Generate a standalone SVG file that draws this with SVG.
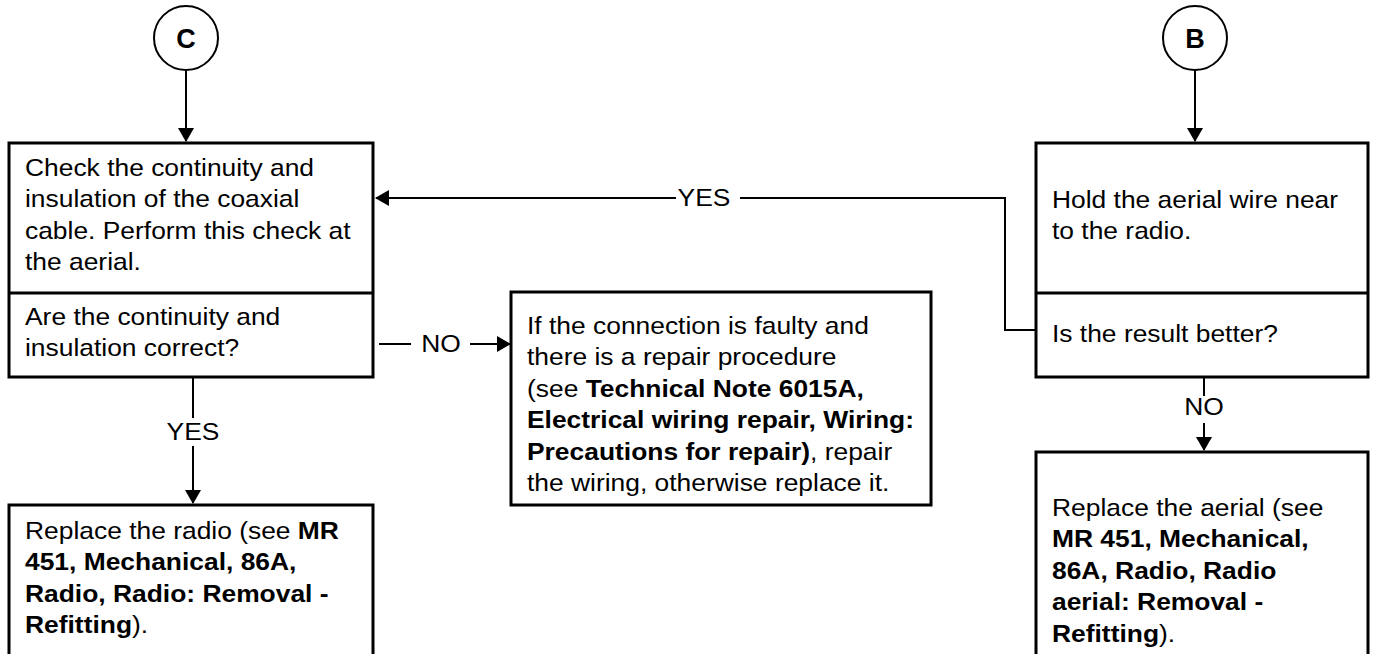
<svg xmlns="http://www.w3.org/2000/svg" width="1375" height="654" viewBox="0 0 1375 654">
<style>
.box{fill:#fff;stroke:#000;stroke-width:3}
.circ{fill:#fff;stroke:#000;stroke-width:2}
.t{font-family:"Liberation Sans",Arial,Helvetica,sans-serif;font-size:24px;fill:#000}
.b{font-weight:bold}
.lbl{text-anchor:middle}
.conn{stroke:#000;stroke-width:2;fill:none}
.div{stroke:#000;stroke-width:3}
</style>
<defs>
<marker id="ah" markerWidth="14" markerHeight="16" refX="13" refY="8" orient="auto" markerUnits="userSpaceOnUse">
<path d="M0,0 L14,8 L0,16 Z" fill="#000"/>
</marker>
</defs>
<rect width="1375" height="654" fill="#fff"/>

<g id="connectors">
<path class="conn" d="M186,71 V141" marker-end="url(#ah)"/>
<path class="conn" d="M1195,71 V141" marker-end="url(#ah)"/>
<path class="conn" d="M193,378 V418"/>
<path class="conn" d="M193,446 V503" marker-end="url(#ah)"/>
<path class="conn" d="M1204,378 V396"/>
<path class="conn" d="M1204,423 V450" marker-end="url(#ah)"/>
<path class="conn" d="M1036,330 H1005 V198 H740"/>
<path class="conn" d="M676,198 H376" marker-end="url(#ah)"/>
<path class="conn" d="M379,344 H411"/>
<path class="conn" d="M470,344 H510" marker-end="url(#ah)"/>
<text class="t lbl" transform="translate(193 0) scale(1.1 1)" x="0" y="440">YES</text>
<text class="t lbl" transform="translate(1204 0) scale(1.1 1)" x="0" y="415">NO</text>
<text class="t lbl" transform="translate(704 0) scale(1.1 1)" x="0" y="206">YES</text>
<text class="t lbl" transform="translate(441 0) scale(1.1 1)" x="0" y="352">NO</text>
</g>

<g id="nodeC">
<circle class="circ" cx="186" cy="38" r="32"/>
<text class="t b lbl" style="font-size:27px" x="186" y="48">C</text>
</g>

<g id="nodeB">
<circle class="circ" cx="1195" cy="38" r="32"/>
<text class="t b lbl" style="font-size:27px" x="1195" y="48">B</text>
</g>

<g id="checkCable">
<rect class="box" x="9" y="143" width="364" height="234"/>
<line class="div" x1="9" y1="293" x2="373" y2="293"/>
<g transform="translate(25 0) scale(1.1 1)">
<text class="t" x="0" y="176">Check the continuity and</text>
<text class="t" x="0" y="207.5">insulation of the coaxial</text>
<text class="t" x="0" y="239">cable. Perform this check at</text>
<text class="t" x="0" y="270.5">the aerial.</text>
<text class="t" x="0" y="325">Are the continuity and</text>
<text class="t" x="0" y="356.5">insulation correct?</text>
</g>
</g>

<g id="holdAerial">
<rect class="box" x="1036" y="143" width="332" height="234"/>
<line class="div" x1="1036" y1="293" x2="1368" y2="293"/>
<g transform="translate(1052 0) scale(1.1 1)">
<text class="t" x="0" y="208">Hold the aerial wire near</text>
<text class="t" x="0" y="239.5">to the radio.</text>
<text class="t" x="0" y="342">Is the result better?</text>
</g>
</g>

<g id="repairWiring">
<rect class="box" x="511" y="292" width="420" height="213"/>
<g transform="translate(527 0) scale(1.1 1)">
<text class="t" x="0" y="334">If the connection is faulty and</text>
<text class="t" x="0" y="365.5">there is a repair procedure</text>
<text class="t" x="0" y="397">(see <tspan class="b">Technical Note 6015A,</tspan></text>
<text class="t b" x="0" y="428.5">Electrical wiring repair, Wiring:</text>
<text class="t" x="0" y="460"><tspan class="b">Precautions for repair)</tspan>, repair</text>
<text class="t" x="0" y="491.5">the wiring, otherwise replace it.</text>
</g>
</g>

<g id="replaceRadio">
<rect class="box" x="9" y="505" width="364" height="160"/>
<g transform="translate(25 0) scale(1.1 1)">
<text class="t" x="0" y="539">Replace the radio (see <tspan class="b">MR</tspan></text>
<text class="t b" x="0" y="570.5">451, Mechanical, 86A,</text>
<text class="t b" x="0" y="602">Radio, Radio: Removal -</text>
<text class="t" x="0" y="633.5"><tspan class="b">Refitting</tspan>).</text>
</g>
</g>

<g id="replaceAerial">
<rect class="box" x="1036" y="452" width="332" height="220"/>
<g transform="translate(1052 0) scale(1.1 1)">
<text class="t" x="0" y="516">Replace the aerial (see</text>
<text class="t b" x="0" y="547.5">MR 451, Mechanical,</text>
<text class="t b" x="0" y="579">86A, Radio, Radio</text>
<text class="t b" x="0" y="610.5">aerial: Removal -</text>
<text class="t" x="0" y="642"><tspan class="b">Refitting</tspan>).</text>
</g>
</g>
</svg>
